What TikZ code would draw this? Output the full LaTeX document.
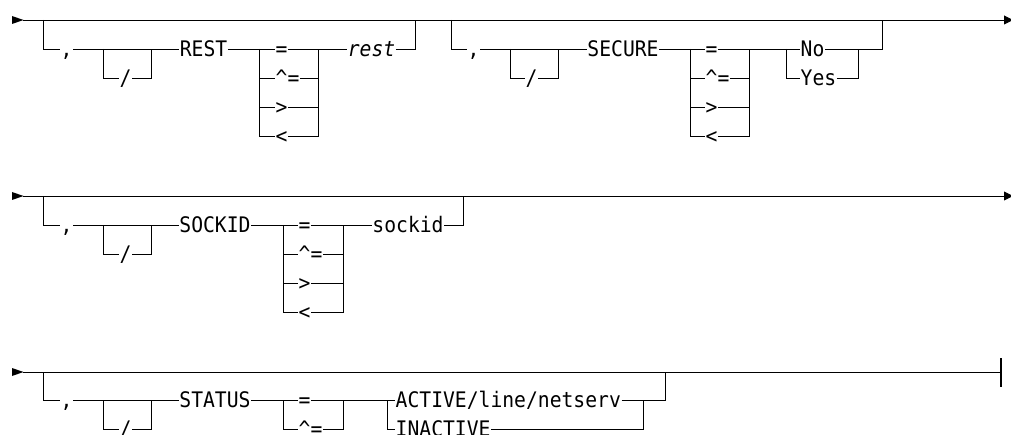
\documentclass[tikz,border=0pt]{standalone}
\usepackage{fontspec}
\setmonofont[FakeStretch=0.92]{DejaVu Sans Mono}
\usetikzlibrary{arrows.meta}
\begin{document}
\begin{tikzpicture}[x=1pt,y=-1pt,
  ln/.style={line width=0.9pt, line join=miter},
  lbl/.style={inner xsep=0.5pt, inner ysep=0pt, text height=15.6pt, text depth=0pt,
    font=\fontsize{21.4}{22}\selectfont\ttfamily},
  opt/.style={lbl, anchor=west},
  ital/.style={lbl, font=\fontsize{21.4}{22}\selectfont\ttfamily\itshape},
  endarrow/.style={-{Triangle[length=9pt,width=9pt]}}
]
\useasboundingbox (0,0) rectangle (1011,435);

% ================= Row 1 =================
\coordinate (R1s) at (23,20);
\coordinate (R1e) at (1013,20);
\fill (12,16) -- (23.5,20) -- (12,24) -- cycle;
\draw[ln,endarrow] (R1s) -- (R1e);

% group A : REST
\coordinate (A0) at (43,20);
\node[lbl] (Ac) at (66.5,49) {,};
\coordinate (Asl) at (103,49);
\coordinate (Asr) at (151,49);
\node[lbl] (As) at (125.5,78) {/};
\node[lbl] (Ak) at (203.5,49) {REST};
\coordinate (Aol) at (259,49);
\coordinate (Aor) at (318,49);
\node[opt] (Ao1) at (275,49) {=};
\node[opt] (Ao2) at (275,78) {\textasciicircum=};
\node[opt] (Ao3) at (275,107) {>};
\node[opt] (Ao4) at (275,136) {<};
\node[ital] (Av) at (371.5,49) {rest};
\coordinate (A1) at (415,20);
\draw[ln] (A0) |- (Ac.west);
\draw[ln] (Ac.east) -- (Ak.west);
\draw[ln] (Asl) |- (As.west);
\draw[ln] (As.east) -| (Asr);
\draw[ln] (Ak.east) -- (Ao1.west);
\draw[ln] (Aol) |- (Ao4.west);
\draw[ln] (Aol |- Ao2) -- (Ao2.west);
\draw[ln] (Aol |- Ao3) -- (Ao3.west);
\draw[ln] (Ao1.east) -- (Av.west);
\draw[ln] (Ao2.east) -- (Aor |- Ao2);
\draw[ln] (Ao3.east) -- (Aor |- Ao3);
\draw[ln] (Ao4.east) -| (Aor);
\draw[ln] (Av.east) -| (A1);

% group B : SECURE
\coordinate (B0) at (451,20);
\node[lbl] (Bc) at (473.5,49) {,};
\coordinate (Bsl) at (510,49);
\coordinate (Bsr) at (558,49);
\node[lbl] (Bs) at (531.5,78) {/};
\node[lbl] (Bk) at (623,49) {SECURE};
\coordinate (Bol) at (690,49);
\coordinate (Bor) at (749,49);
\node[opt] (Bo1) at (705,49) {=};
\node[opt] (Bo2) at (705,78) {\textasciicircum=};
\node[opt] (Bo3) at (705,107) {>};
\node[opt] (Bo4) at (705,136) {<};
\coordinate (Byl) at (786,49);
\coordinate (Byr) at (858,49);
\node[opt] (By1) at (800,49) {No};
\node[opt] (By2) at (800,78) {Yes};
\coordinate (B1) at (882,20);
\draw[ln] (B0) |- (Bc.west);
\draw[ln] (Bc.east) -- (Bk.west);
\draw[ln] (Bsl) |- (Bs.west);
\draw[ln] (Bs.east) -| (Bsr);
\draw[ln] (Bk.east) -- (Bo1.west);
\draw[ln] (Bol) |- (Bo4.west);
\draw[ln] (Bol |- Bo2) -- (Bo2.west);
\draw[ln] (Bol |- Bo3) -- (Bo3.west);
\draw[ln] (Bo1.east) -- (By1.west);
\draw[ln] (Bo2.east) -- (Bor |- Bo2);
\draw[ln] (Bo3.east) -- (Bor |- Bo3);
\draw[ln] (Bo4.east) -| (Bor);
\draw[ln] (Byl) |- (By2.west);
\draw[ln] (By1.east) -| (B1);
\draw[ln] (By2.east) -| (Byr);

% ================= Row 2 =================
\coordinate (R2s) at (23,196);
\coordinate (R2e) at (1013,196);
\fill (12,192) -- (23.5,196) -- (12,200) -- cycle;
\draw[ln,endarrow] (R2s) -- (R2e);

\coordinate (C0) at (43,196);
\node[lbl] (Cc) at (66.5,225) {,};
\coordinate (Csl) at (103,225);
\coordinate (Csr) at (151,225);
\node[lbl] (Cs) at (125.5,254) {/};
\node[lbl] (Ck) at (215,225) {SOCKID};
\coordinate (Col) at (283,225);
\coordinate (Cor) at (343,225);
\node[opt] (Co1) at (298,225) {=};
\node[opt] (Co2) at (298,254) {\textasciicircum=};
\node[opt] (Co3) at (298,283) {>};
\node[opt] (Co4) at (298,312) {<};
\node[lbl] (Cv) at (408,225) {sockid};
\coordinate (C1) at (463,196);
\draw[ln] (C0) |- (Cc.west);
\draw[ln] (Cc.east) -- (Ck.west);
\draw[ln] (Csl) |- (Cs.west);
\draw[ln] (Cs.east) -| (Csr);
\draw[ln] (Ck.east) -- (Co1.west);
\draw[ln] (Col) |- (Co4.west);
\draw[ln] (Col |- Co2) -- (Co2.west);
\draw[ln] (Col |- Co3) -- (Co3.west);
\draw[ln] (Co1.east) -- (Cv.west);
\draw[ln] (Co2.east) -- (Cor |- Co2);
\draw[ln] (Co3.east) -- (Cor |- Co3);
\draw[ln] (Co4.east) -| (Cor);
\draw[ln] (Cv.east) -| (C1);

% ================= Row 3 =================
\coordinate (R3s) at (23,372);
\coordinate (R3e) at (1001,372);
\coordinate (R3t) at (1001,358);
\coordinate (R3b) at (1001,387);
\fill (12,368) -- (23.5,372) -- (12,376) -- cycle;
\draw[ln] (R3s) -- (R3e);
\draw[line width=1.2pt] (R3t) -- (R3b);

\coordinate (D0) at (43,372);
\node[lbl] (Dc) at (66.5,400) {,};
\coordinate (Dsl) at (103,400);
\coordinate (Dsr) at (151,400);
\node[lbl] (Ds) at (125.5,429) {/};
\node[lbl] (Dk) at (215,400) {STATUS};
\coordinate (Dol) at (283,400);
\coordinate (Dor) at (343,400);
\node[opt] (Do1) at (298,400) {=};
\node[opt] (Do2) at (298,429) {\textasciicircum=};
\coordinate (Dal) at (387,400);
\coordinate (Dar) at (643,400);
\node[opt] (Da1) at (395,400) {ACTIVE/line/netserv};
\node[opt] (Da2) at (395,429) {INACTIVE};
\coordinate (D1) at (665,372);
\draw[ln] (D0) |- (Dc.west);
\draw[ln] (Dc.east) -- (Dk.west);
\draw[ln] (Dsl) |- (Ds.west);
\draw[ln] (Ds.east) -| (Dsr);
\draw[ln] (Dk.east) -- (Do1.west);
\draw[ln] (Dol) |- (Do2.west);
\draw[ln] (Do1.east) -- (Da1.west);
\draw[ln] (Do2.east) -| (Dor);
\draw[ln] (Dal) |- (Da2.west);
\draw[ln] (Da1.east) -| (D1);
\draw[ln] (Da2.east) -| (Dar);
\end{tikzpicture}
\end{document}
